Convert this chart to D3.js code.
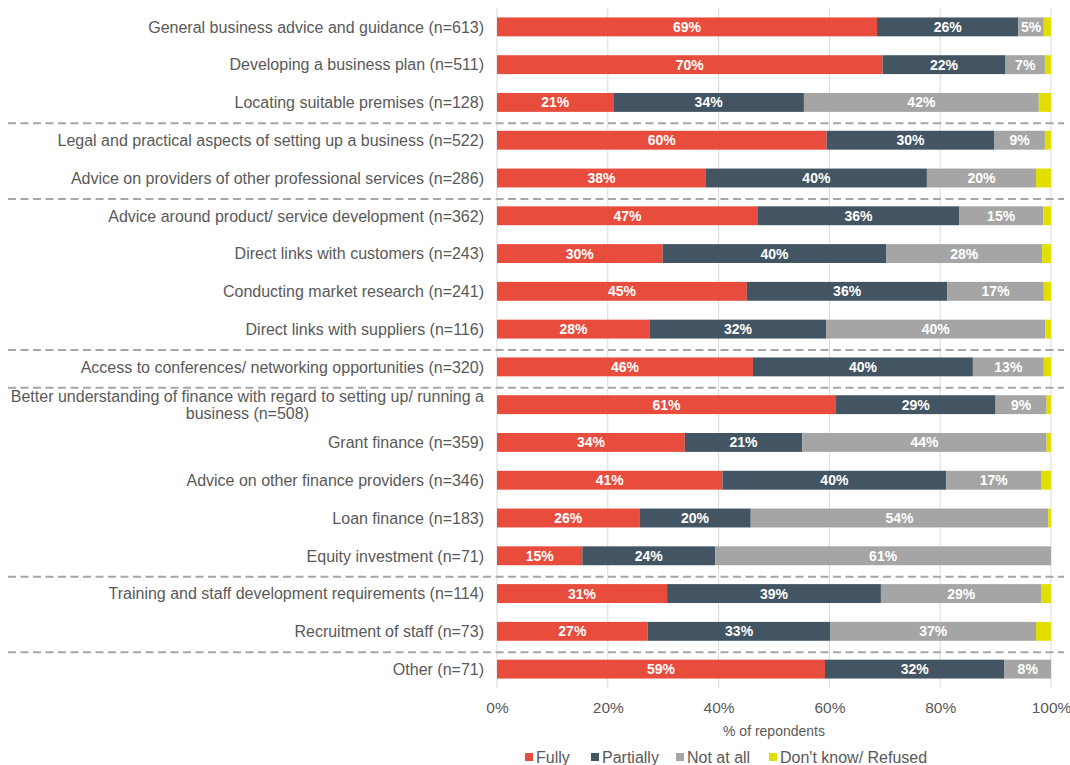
<!DOCTYPE html>
<html>
<head>
<meta charset="utf-8">
<script src="https://cdn.jsdelivr.net/npm/d3@7/dist/d3.min.js"></script>
<style>
  html, body { margin: 0; padding: 0; background: #fff; }
  svg { display: block; font-family: "Liberation Sans", Arial, sans-serif; }
</style>
</head>
<body>
<svg id="chart" width="1070" height="765"></svg>
<script>
// Support types, with the number of respondents for each
const categories = [
  "General business advice and guidance (n=613)",
  "Developing a business plan (n=511)",
  "Locating suitable premises (n=128)",
  "Legal and practical aspects of setting up a business (n=522)",
  "Advice on providers of other professional services (n=286)",
  "Advice around product/ service development (n=362)",
  "Direct links with customers (n=243)",
  "Conducting market research (n=241)",
  "Direct links with suppliers (n=116)",
  "Access to conferences/ networking opportunities (n=320)",
  "Better understanding of finance with regard to setting up/ running a business (n=508)",
  "Grant finance (n=359)",
  "Advice on other finance providers (n=346)",
  "Loan finance (n=183)",
  "Equity investment (n=71)",
  "Training and staff development requirements (n=114)",
  "Recruitment of staff (n=73)",
  "Other (n=71)"
];

// Share of respondents (%) per answer
const fully     = [68.6, 69.6, 21.0, 59.5, 37.7, 47.1, 29.9, 45.1, 27.6, 46.2, 61.2, 33.9, 40.7, 25.7, 15.4, 30.7, 27.2, 59.2];
const partially = [25.5, 22.2, 34.4, 30.3, 39.9, 36.3, 40.4, 36.2, 31.8, 39.7, 28.8, 21.2, 40.4, 20.1, 24.0, 38.6, 33.0, 32.4];
const notAtAll  = [ 4.6,  7.1, 42.4,  9.1, 19.7, 15.2, 28.1, 17.4, 39.6, 12.8,  9.2, 44.1, 17.1, 53.7, 60.6, 29.0, 37.1,  8.4];
const dontKnow  = [ 1.3,  1.1,  2.2,  1.1,  2.7,  1.4,  1.6,  1.3,  1.0,  1.3,  0.8,  0.8,  1.8,  0.5,  0.0,  1.7,  2.7,  0.0];

const seriesNames = ["Fully", "Partially", "Not at all", "Don't know/ Refused"];
const tickValues = [0, 20, 40, 60, 80, 100];
// Rows after which a group separator is drawn
const groupBreaks = [2, 4, 8, 9, 14, 16];

const colors = ["#E84C3D", "#435563", "#A5A5A5", "#E2DF00"];

const svg = d3.select("#chart");
const plotLeft = 497, plotRight = 1051, plotTop = 8, plotBottom = 688;

const x = d3.scaleLinear().domain([0, 100]).range([plotLeft, plotRight]);
const y = d3.scaleBand().domain(d3.range(categories.length))
  .range([plotTop, plotBottom]).paddingInner(0.5).paddingOuter(0.25);

const rows = categories.map((c, i) => ({
  i, "Fully": fully[i], "Partially": partially[i],
  "Not at all": notAtAll[i], "Don't know/ Refused": dontKnow[i]
}));
const stacked = d3.stack().keys(seriesNames)(rows);

// Vertical gridlines
svg.append("g").selectAll("line").data(tickValues).join("line")
  .attr("x1", d => x(d)).attr("x2", d => x(d))
  .attr("y1", plotTop).attr("y2", plotBottom)
  .attr("stroke", "#d9d9d9").attr("stroke-width", 1);

// Stacked bars
const layer = svg.append("g").selectAll("g").data(stacked).join("g")
  .attr("fill", (d, k) => colors[k]);
layer.selectAll("rect").data(d => d).join("rect")
  .attr("x", d => x(d[0]))
  .attr("y", d => y(d.data.i))
  .attr("width", d => Math.max(0, x(d[1]) - x(d[0])))
  .attr("height", y.bandwidth());

// Value labels (first three answers only)
stacked.slice(0, 3).forEach(s => {
  svg.append("g").selectAll("text").data(s.filter(d => d[1] - d[0] >= 3)).join("text")
    .attr("x", d => x((d[0] + d[1]) / 2))
    .attr("y", d => y(d.data.i) + y.bandwidth() / 2)
    .attr("dy", "0.36em")
    .attr("text-anchor", "middle")
    .attr("fill", "#fff")
    .attr("font-weight", "bold")
    .attr("font-size", 14)
    .text(d => Math.round(d[1] - d[0]) + "%");
});

// Group separators
svg.append("g").selectAll("line").data(groupBreaks).join("line")
  .attr("x1", 8).attr("x2", 1064)
  .attr("y1", d => y(d) + y.step() * 0.75 + 2)
  .attr("y2", d => y(d) + y.step() * 0.75 + 2)
  .attr("stroke", "#a6a6a6").attr("stroke-width", 2)
  .attr("stroke-dasharray", "8,4.5");

// Category labels
const labelX = 484;
const lab = svg.append("g").attr("fill", "#595959").attr("font-size", 16);
categories.forEach((c, i) => {
  const cy = y(i) + y.bandwidth() / 2;
  const t = lab.append("text").attr("x", labelX).attr("y", cy).attr("dy", "0.36em")
    .attr("text-anchor", "end").text(c);
  if (t.node().getComputedTextLength() > 475) {
    // Wrap long label onto two centred lines
    t.remove();
    const words = c.split(" ");
    const line2 = words.splice(-2).join(" ");
    const line1 = words.join(" ");
    const g = lab.append("text").attr("text-anchor", "middle");
    const s1 = g.append("tspan").attr("y", cy - 8.5).attr("dy", "0.36em").text(line1);
    const w = s1.node().getComputedTextLength();
    const cx = labelX - w / 2;
    s1.attr("x", cx);
    g.append("tspan").attr("x", cx).attr("y", cy + 8.5).attr("dy", "0.36em").text(line2);
  }
});

// X axis tick labels
const xAxis = d3.axisBottom(x).tickValues(tickValues).tickSize(0).tickPadding(0)
  .tickFormat(d => d + "%");
const ax = svg.append("g").attr("transform", `translate(0,${plotBottom + 14})`).call(xAxis);
ax.select(".domain").remove();
ax.selectAll("text").attr("fill", "#595959").attr("font-size", 15.5)
  .attr("font-family", "Liberation Sans, Arial, sans-serif");

// Axis title
svg.append("text").attr("x", (plotLeft + plotRight) / 2).attr("y", 731).attr("dy", "0.36em")
  .attr("text-anchor", "middle").attr("fill", "#595959").attr("font-size", 14)
  .text("% of repondents");

// Legend
const legendX = [525, 591, 676, 769];
const leg = svg.append("g").selectAll("g").data(seriesNames).join("g")
  .attr("transform", (d, k) => `translate(${legendX[k]},757)`);
leg.append("rect").attr("x", 0).attr("y", -4).attr("width", 8).attr("height", 8)
  .attr("fill", (d, k) => colors[k]);
leg.append("text").attr("x", 11).attr("dy", "0.36em").attr("fill", "#595959")
  .attr("font-size", 16).text(d => d);
</script>
</body>
</html>
